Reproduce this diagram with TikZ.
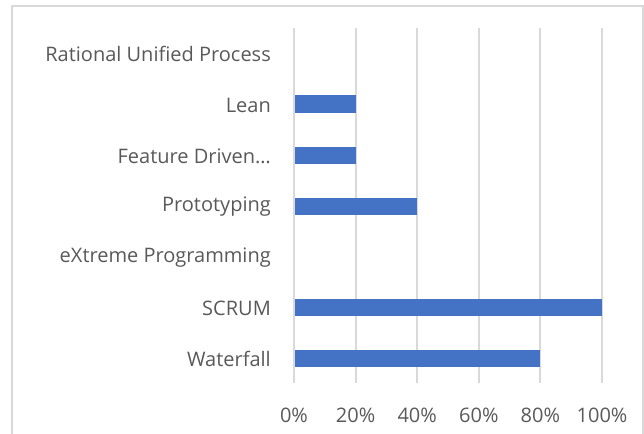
\documentclass[tikz,border=0pt]{standalone}
\usepackage{fontspec}
\setmainfont{Open Sans}
\definecolor{barblue}{RGB}{68,114,196}
\definecolor{gridgray}{RGB}{217,217,217}
\definecolor{textgray}{RGB}{89,89,89}
\tikzset{
	catlabel/.style={anchor=east,text=textgray,font=\fontsize{20}{24}\selectfont,inner sep=0pt},
	ticklabel/.style={text=textgray,font=\fontsize{20}{24}\selectfont,inner sep=0pt},
	bar/.style={fill=barblue,draw=none}
}

\begin{document}
\begin{tikzpicture}[x=1pt,y=-1pt]
	\useasboundingbox (0,0) rectangle (644,433);
	\clip (0,0) rectangle (644,433);
	\draw [gridgray,line width=2pt] (12,6) rectangle (642.5,450);
	% vertical grid lines and axis values
	\foreach \v [count=\i from 0] in {0,20,40,60,80,100}
	{
	\draw [gridgray,line width=2pt] ({294+61.6*\i},28) -- ({294+61.6*\i},383);
	\node [ticklabel] (tick\v) at ({294+61.6*\i},415) {\v\%};
	}
	% categories
	\node [catlabel] (rup) at (271,54) {Rational Unified Process};
	\node [catlabel] (lean) at (271,105) {Lean};
	\node [catlabel] (fdd) at (271,156) {Feature Driven…};
	\node [catlabel] (proto) at (271,207) {Prototyping};
	\node [catlabel] (xp) at (271,258) {eXtreme Programming};
	\node [catlabel] (scrum) at (271,308) {SCRUM};
	\node [catlabel] (water) at (271,359) {Waterfall};
	% bars
	\foreach \y/\p in {104/20,155/20,206/40,307/100,358/80}
	\fill [bar] (295,\y-8.5) rectangle ({294+3.08*\p},\y+8.5);
\end{tikzpicture}
\end{document}
